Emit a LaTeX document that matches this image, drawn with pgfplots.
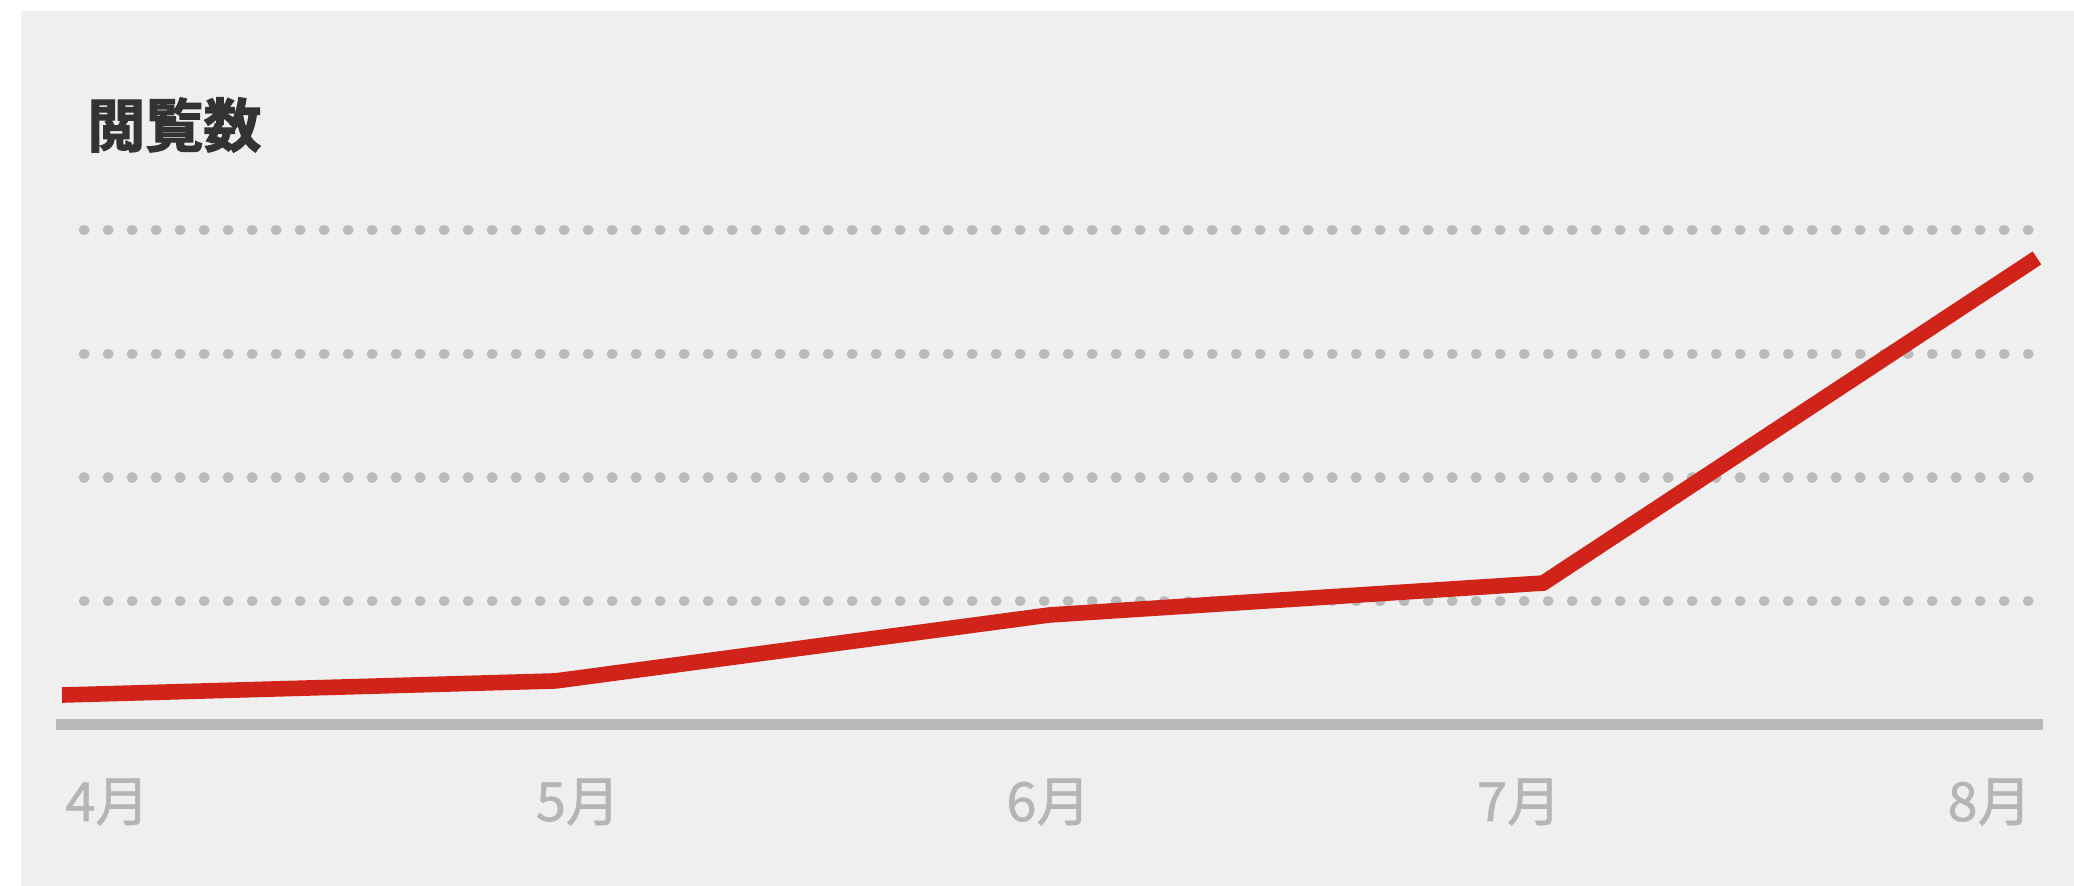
\documentclass[border=0pt]{standalone}
\usepackage{fontspec}
\usepackage{pgfplots}
\pgfplotsset{compat=1.18}
\newfontfamily\cjk{Noto Sans CJK JP}
\newfontfamily\cjkb[FakeBold=2.2]{Noto Sans CJK JP Bold}
\newfontfamily\cjkm[FakeBold=1.0]{Noto Sans CJK JP}
\definecolor{bg}{HTML}{EFEFEF}
\definecolor{titlec}{HTML}{333333}
\definecolor{labelc}{HTML}{B5B5B5}
\definecolor{axisc}{HTML}{B8B8B8}
\definecolor{gridc}{HTML}{BABABA}
\definecolor{redc}{HTML}{D0241B}
\begin{document}
\begin{tikzpicture}[x=1pt,y=1pt]
\fill[white] (0,0) rectangle (1037,443);
\fill[bg] (10.5,0) rectangle (1037,437.5);
\node[anchor=west, inner sep=0, text=titlec, font=\cjkb\fontsize{29}{29}\selectfont] at (43.5,380.5) {閲覧数};
\begin{axis}[
  at={(28pt,80.5pt)}, anchor=south west,
  scale only axis, width=993.5pt, height=247.5pt,
  xmin=-0.01215, xmax=4.0122, ymin=0, ymax=4,
  clip=false,
  axis y line=none,
  axis x line=bottom,
  x axis line style={-, line width=5.5pt, draw=axisc},
  xtick={0.092,1.045,1.998,2.951,3.904},
  xticklabels={4月,5月,6月,7月,8月},
  major tick length=0pt,
  ytick=\empty,
  xticklabel style={font=\cjkm\fontsize{27}{27}\selectfont, text=labelc, anchor=center, yshift=-38.5pt},
]
\addplot[gridc, line width=5.2pt, line cap=round, dash pattern=on 0.2pt off 11.8pt, forget plot] coordinates {(0.04456,1) (3.9838,1)};
\addplot[gridc, line width=5.2pt, line cap=round, dash pattern=on 0.2pt off 11.8pt, forget plot] coordinates {(0.04456,2) (3.9838,2)};
\addplot[gridc, line width=5.2pt, line cap=round, dash pattern=on 0.2pt off 11.8pt, forget plot] coordinates {(0.04456,3) (3.9838,3)};
\addplot[gridc, line width=5.2pt, line cap=round, dash pattern=on 0.2pt off 11.8pt, forget plot] coordinates {(0.04456,4) (3.9838,4)};
\addplot[redc, line width=7.8pt, no marks, line join=miter] coordinates {(0,0.242) (1,0.356) (2,0.889) (3,1.147) (4,3.774)};
\end{axis}
\end{tikzpicture}
\end{document}
